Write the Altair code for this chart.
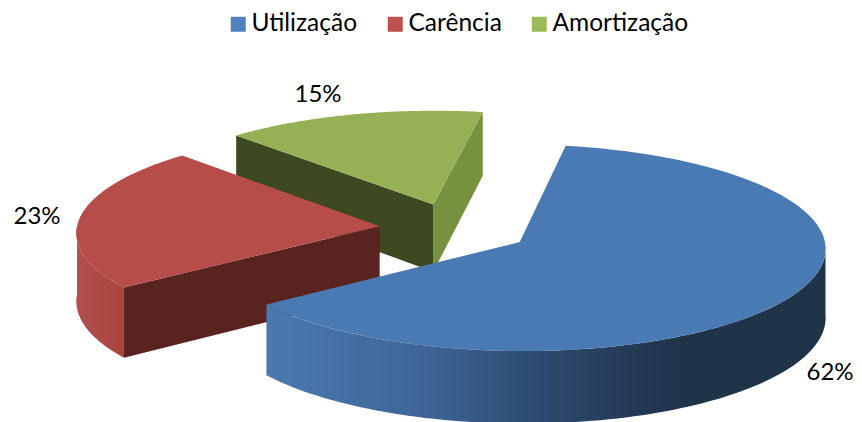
import math
import altair as alt

categories = ["Utilização", "Carência", "Amortização"]
shares = [62.3, 22.9, 14.8]
percent_labels = ["62%", "23%", "15%"]
legend_colors = ["#4F81BD", "#C0504D", "#9BBB59"]
top_colors = ["#4A7AB4", "#B64D4A", "#95B055"]

FONT = "Lato"
START = 80.2      # angle (deg) where the first slice starts, clockwise
CX, CY = 455.0, 228.5
K, TILT, PERSP, DEPTH, EXPLODE = 303.0, 0.335, 0.055, 68.0, 0.25


def project(X, Y, down=0.0):
    q = 1 + PERSP * Y
    return [CX + K * X / q, CY - K * TILT * Y / q + DEPTH * down / q]


spans = []
a = START
for s in shares:
    spans.append((a, a - s * 3.6))
    a -= s * 3.6


def offset(i):
    m = math.radians(sum(spans[i]) / 2)
    return EXPLODE * math.cos(m), EXPLODE * math.sin(m)


def rim(i, a0, a1, down=0.0, n=90):
    ox, oy = offset(i)
    return [project(ox + math.cos(math.radians(a0 + (a1 - a0) * j / n)),
                    oy + math.sin(math.radians(a0 + (a1 - a0) * j / n)), down)
            for j in range(n + 1)]


def feature(ring):
    return {"type": "Feature", "properties": {},
            "geometry": {"type": "Polygon", "coordinates": [ring + [ring[0]]]}}


def top(i):
    ox, oy = offset(i)
    return feature([project(ox, oy)] + rim(i, *spans[i]))


def wall(i, a0, a1):
    return feature(rim(i, a0, a1) + rim(i, a0, a1, 1.0)[::-1])


def face(i, ang):
    ox, oy = offset(i)
    c, s = math.cos(math.radians(ang)), math.sin(math.radians(ang))
    return feature([project(ox, oy), project(ox + c, oy + s),
                    project(ox + c, oy + s, 1.0), project(ox, oy, 1.0)])


def shape(feat, fill):
    return alt.Chart(alt.Data(values=[feat])).mark_geoshape(fill=fill, stroke=None, strokeWidth=0)


def grad(stops):
    return alt.Gradient(gradient="linear", x1=0, y1=0, x2=1, y2=0,
                        stops=[alt.GradientStop(offset=o, color=c) for o, c in stops])


blue, red, green = 0, 1, 2
layers = [
    shape(face(green, spans[green][1]), "#77923F"),
    shape(face(green, spans[green][0]), "#3F4921"),
    shape(top(green), top_colors[green]),
    shape(wall(red, spans[red][0], -180.0), grad([(0, "#B2504D"), (1, "#A9433F")])),
    shape(face(red, spans[red][0]), "#59231F"),
    shape(top(red), top_colors[red]),
    shape(wall(blue, spans[blue][1], -2.0),
          grad([(0, "#4A79B1"), (0.275, "#3F6697"), (0.48, "#2D4B70"), (0.74, "#1F3349"), (1, "#1F3349")])),
    shape(top(blue), top_colors[blue]),
]

# legend carrier: degenerate shapes hidden under the big slice
ox, oy = offset(blue)
legend_feats = []
for c in categories:
    f = feature([project(ox, oy), project(ox, oy), project(ox, oy)])
    f["properties"] = {"name": c}
    legend_feats.append(f)
legend_layer = alt.Chart(alt.Data(values=legend_feats)).mark_geoshape(stroke=None, strokeWidth=0).encode(
    color=alt.Color("properties.name:N",
                    scale=alt.Scale(domain=categories, range=legend_colors),
                    legend=alt.Legend(title=None, orient="none", legendX=218, legendY=4,
                                      direction="horizontal", columns=3, columnPadding=25,
                                      symbolType="square", symbolSize=225, symbolStrokeWidth=0,
                                      labelFont=FONT, labelFontSize=24.5, labelColor="#000000",
                                      labelOffset=1, gridAlign="none", symbolOpacity=1)))

label_positions = [(822, 365), (29, 209), (310, 87)]
text_layers = [
    alt.Chart(alt.Data(values=[{"t": t}])).mark_text(font=FONT, fontSize=24, color="#000000").encode(
        text="t:N", x=alt.value(p[0]), y=alt.value(p[1]))
    for t, p in zip(percent_labels, label_positions)
]

chart = alt.layer(*layers, legend_layer, *text_layers).project(
    type="identity", scale=1, translate=[-8, -8]
).properties(width=846, height=414, padding=0, autosize=alt.AutoSizeParams(type="none")).configure_view(stroke=None)

chart.save("out.html", embed_options={"renderer": "svg", "actions": False})
